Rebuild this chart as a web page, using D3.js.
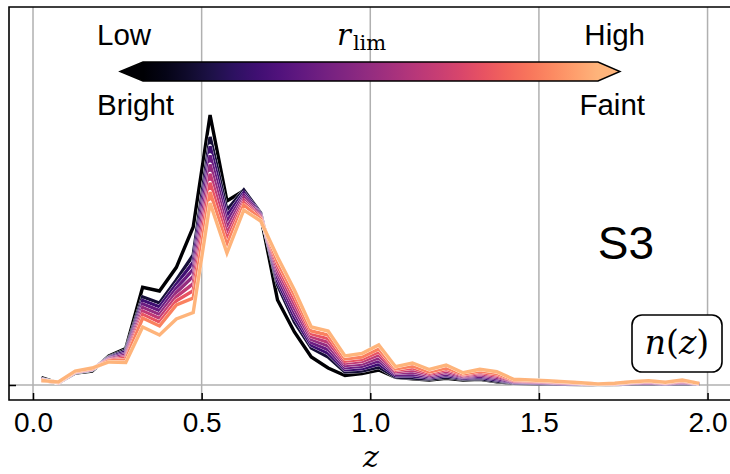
<!DOCTYPE html>
<html><head><meta charset="utf-8">
<script src="https://cdn.jsdelivr.net/npm/d3@7"></script>
<style>body{margin:0;background:#fff} svg{display:block}</style>
</head><body><svg id="c" width="730" height="474"></svg>
<script>
// ---- data ----
const zCenters = [0.025,0.075,0.125,0.175,0.225,0.275,0.325,0.375,0.425,0.475,
  0.525,0.575,0.625,0.675,0.725,0.775,0.825,0.875,0.925,0.975,
  1.025,1.075,1.125,1.175,1.225,1.275,1.325,1.375,1.425,1.475,
  1.525,1.575,1.625,1.675,1.725,1.775,1.825,1.875,1.925,1.975];
const nz0 = [7.5,2,12,14,29,36.5,97.7,94,117.7,158,270,184,194.5,169,85,53,28,17,9.5,11.5,15,7.7,6.3,5,6.7,5,5.7,3.3,1.7,1.3,1,0.7,0.5,0.5,0.5,1,1,0.7,1,0.7];
const nz1 = [6,2,12.5,15,28,35,88,82,105,130,248,175,195,172,100,63,37,28,13,14,18,8,7,6,8,6,6.5,4,2,1.6,1.3,1,0.7,0.5,0.7,1.3,1.5,1,1.5,1];
const nz2 = [5.8,2.1,12.7,15.3,27.3,33.3,84.5,78.2,100.8,122.8,238.8,169.2,192.5,171,103.8,67.5,39.8,31.7,15.2,16.3,21,9.3,9,7.2,9.5,6.8,7.8,5.3,2.5,2.1,1.7,1.3,0.9,0.6,0.8,1.6,1.9,1.3,2,1.1];
const nz3 = [5.5,2.2,12.8,15.5,26.7,31.7,81,74.3,96.7,115.7,229.7,163.3,190,170,107.7,72,42.7,35.3,17.3,18.7,24,10.7,11,8.3,11,7.7,9,6.5,3,2.6,2.1,1.7,1.1,0.7,1,1.9,2.3,1.5,2.5,1.2];
const nz4 = [5.3,2.3,13,15.8,26,30,77.5,70.5,92.5,108.5,220.5,157.5,187.5,169,111.5,76.5,45.5,39,19.5,21,27,12,13,9.5,12.5,8.5,10.3,7.8,3.5,3.1,2.6,2,1.4,0.8,1.1,2.2,2.8,1.8,3,1.3];
const nz5 = [5,2.3,13.2,16,25.3,28.3,74,66.7,88.3,101.3,211.3,151.7,185,168,115.3,81,48.3,42.7,21.7,23.3,30,13.3,15,10.7,14,9.3,11.5,9,4,3.5,3,2.3,1.6,0.8,1.2,2.4,3.2,2,3.5,1.4];
const nz6 = [4.8,2.4,13.3,16.3,24.7,26.7,70.5,62.8,84.2,94.2,202.2,145.8,182.5,167,119.2,85.5,51.2,46.3,23.8,25.7,33,14.7,17,11.8,15.5,10.2,12.8,10.3,4.5,4,3.4,2.7,1.8,0.9,1.4,2.7,3.6,2.3,4,1.4];
const nz7 = [4.5,2.5,13.5,16.5,24,25,67,59,80,87,193,140,180,166,123,90,54,50,26,28,36,16,19,13,17,11,14,11.5,5,4.5,3.8,3,2,1,1.5,3,4,2.5,4.5,1.5];
const nz8 = [4.5,3,14,17,23,22.5,58,50,66,72.5,182,132,175,164,128,95,58,54,29,31.5,40,18.3,22,15.5,20,12.3,15.7,13.3,5.7,5,4.3,3.3,2.3,1,1.7,3.3,4.3,2.7,5,1.7];
const seriesList = [nz0,nz1,nz2,nz3,nz4,nz5,nz6,nz7,nz8];
const xTicks = [0, 0.5, 1.0, 1.5, 2.0];
const xTickLabels = ["0.0","0.5","1.0","1.5","2.0"];
const yTicks = [0];
const cbarLeftTop = "Low", cbarLeftBottom = "Bright";
const cbarRightTop = "High", cbarRightBottom = "Faint";
const panelLabel = "S3";
const cmapMax = 0.84;

// ---- layout ----
const svg = d3.select("#c");
const L = 9, R = 732, T = 7, B = 400;
const x = d3.scaleLinear().domain([-0.0712, 2.0725]).range([L, R]);
const y = d3.scaleLinear().domain([-15, 378]).range([B, T]);
const sans = "'Liberation Sans', Arial, Helvetica, sans-serif";
const serif = "'DejaVu Serif', 'Liberation Serif', serif";
const grid = "#b0b0b0";

const defs = svg.append("defs");
defs.append("clipPath").attr("id","clip").append("rect")
  .attr("x",L).attr("y",T).attr("width",R-L).attr("height",B-T);

// grid
const gG = svg.append("g");
xTicks.forEach(t => gG.append("line").attr("x1",x(t)).attr("x2",x(t))
  .attr("y1",T).attr("y2",B).attr("stroke",grid).attr("stroke-width",1.5));
yTicks.forEach(t => gG.append("line").attr("x1",L).attr("x2",R)
  .attr("y1",y(t)).attr("y2",y(t)).attr("stroke",grid).attr("stroke-width",1.5));

// lines
const line = d3.line().x((d,i)=>x(zCenters[i])).y(d=>y(d));
const gL = svg.append("g").attr("clip-path","url(#clip)");
const n = seriesList.length;
seriesList.forEach((s,i) => {
  const col = d3.interpolateMagma(i/(n-1)*cmapMax);
  gL.append("path").attr("d",line(s)).attr("fill","none")
    .attr("stroke","#fff").attr("stroke-width",3.9).attr("stroke-linejoin","round");
  gL.append("path").attr("d",line(s)).attr("fill","none")
    .attr("stroke",col).attr("stroke-width",3.4).attr("stroke-linejoin","miter");
});

// axes
const xa = svg.append("g").attr("transform",`translate(0,${B})`)
  .call(d3.axisBottom(x).tickValues(xTicks).tickFormat((d,i)=>xTickLabels[i])
    .tickSizeInner(-7).tickSizeOuter(0));
xa.select(".domain").remove();
xa.selectAll("line").attr("stroke","#000").attr("stroke-width",1.5);
xa.selectAll("text").attr("y",32).attr("dy",0).attr("fill","#000")
  .style("font-family",sans).style("font-size","28px");
const ya = svg.append("g").attr("transform",`translate(${L},0)`)
  .call(d3.axisLeft(y).tickValues(yTicks).tickFormat("").tickSizeInner(-7).tickSizeOuter(0));
ya.select(".domain").remove();
ya.selectAll("line").attr("stroke","#000").attr("stroke-width",1.5);

// frame
svg.append("path").attr("d",`M${R},${T}H${L}V${B}H${R}`).attr("fill","none")
  .attr("stroke","#000").attr("stroke-width",1.6);

// colorbar
const cx0 = 143, cx1 = 598, cy0 = 62, cy1 = 81, cym = (cy0+cy1)/2;
const grad = defs.append("linearGradient").attr("id","cg").attr("x1","0%").attr("x2","100%");
d3.range(0, 1.0001, 0.05).forEach(f => grad.append("stop")
  .attr("offset",(f*100)+"%").attr("stop-color", d3.interpolateMagma(f*cmapMax)));
svg.append("rect").attr("x",cx0).attr("y",cy0).attr("width",cx1-cx0).attr("height",cy1-cy0)
  .attr("fill","url(#cg)");
svg.append("path").attr("d",`M${cx0+0.5},${cy0}L120,${cym}L${cx0+0.5},${cy1}Z`)
  .attr("fill",d3.interpolateMagma(0));
svg.append("path").attr("d",`M${cx1-0.5},${cy0}L620,${cym}L${cx1-0.5},${cy1}Z`)
  .attr("fill",d3.interpolateMagma(cmapMax));
svg.append("path").attr("d",`M${cx0},${cy0}H${cx1}L620,${cym}L${cx1},${cy1}H${cx0}L120,${cym}Z`)
  .attr("fill","none").attr("stroke","#000").attr("stroke-width",1.4);

const txt = (s,xx,yy,anchor,size,fam) => svg.append("text").attr("x",xx).attr("y",yy)
  .attr("text-anchor",anchor).style("font-family",fam||sans).style("font-size",size+"px")
  .attr("fill","#000").text(s);
txt(cbarLeftTop, 97, 45, "start", 29.5);
txt(cbarLeftBottom, 97, 115, "start", 29.5);
txt(cbarRightTop, 645, 45, "end", 29.5);
txt(cbarRightBottom, 645, 115, "end", 29.5);

// r_lim label
const rl = svg.append("text").attr("x",337).attr("y",45).style("font-family",serif).attr("fill","#000");
rl.append("tspan").style("font-style","italic").style("font-size","29px").text("r");
rl.append("tspan").attr("dx",2).attr("dy",5).style("font-size","21px").text("lim");

// panel label
txt(panelLabel, 626, 259, "middle", 46);

// n(z) box
svg.append("rect").attr("x",632).attr("y",315).attr("width",90).attr("height",57)
  .attr("rx",10).attr("fill","#fff").attr("stroke","#000").attr("stroke-width",1.6);
const nzT = svg.append("text").attr("x",677).attr("y",354).attr("text-anchor","middle")
  .style("font-family",serif).style("font-size","33px").attr("fill","#000");
nzT.append("tspan").style("font-style","italic").text("n");
nzT.append("tspan").text("(");
nzT.append("tspan").style("font-style","italic").text("z");
nzT.append("tspan").text(")");

// x label
svg.append("text").attr("x",371).attr("y",467).attr("text-anchor","middle")
  .style("font-family",serif).style("font-size","30px").style("font-style","italic")
  .attr("fill","#000").text("z");
</script></body></html>
